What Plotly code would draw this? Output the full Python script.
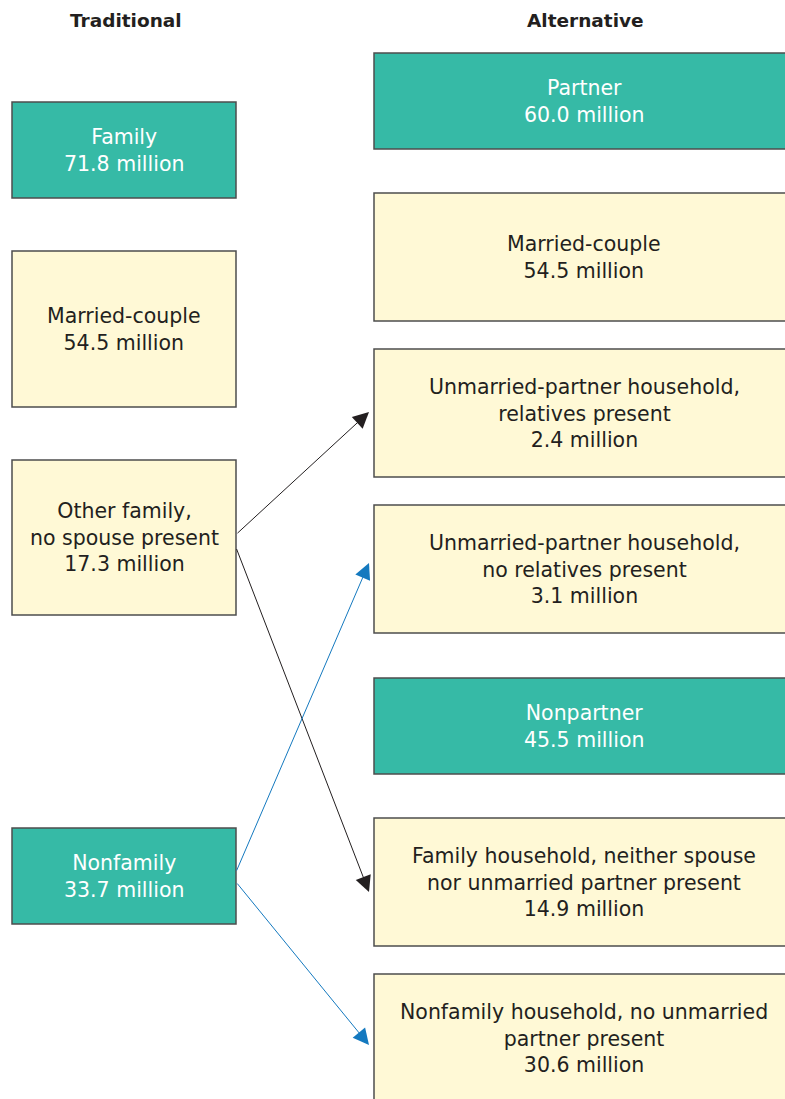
import plotly.graph_objects as go

# ── data ────────────────────────────────────────────────────────────
traditional_labels = ["Family", "Married-couple", "Other family,<br>no spouse present", "Nonfamily"]
traditional_values = [71.8, 54.5, 17.3, 33.7]
traditional_kind = ["total", "sub", "sub", "total"]

alternative_labels = [
    "Partner",
    "Married-couple",
    "Unmarried-partner household,<br>relatives present",
    "Unmarried-partner household,<br>no relatives present",
    "Nonpartner",
    "Family household, neither spouse<br>nor unmarried partner present",
    "Nonfamily household, no unmarried<br>partner present",
]
alternative_values = [60.0, 54.5, 2.4, 3.1, 45.5, 14.9, 30.6]
alternative_kind = ["total", "sub", "sub", "sub", "total", "sub", "sub"]

# flows: traditional index -> alternative index
flow_from = [2, 2, 3, 3]
flow_to = [2, 5, 3, 6]
flow_group = ["family", "family", "nonfamily", "nonfamily"]

# ── layout ──────────────────────────────────────────────────────────
W, H = 785, 1099
TEAL = "#36baa6"
CREAM = "#fff9d6"
EDGE = "#4d4d4d"
INK = "#231f20"
FLOW_COLORS = {"family": "#231f20", "nonfamily": "#1479bf"}
FONT = "DejaVu Sans, sans-serif"

left_x = (12, 236)
right_x = (374, 794)
left_top = [102, 251, 460, 828]
left_h = [96, 156, 155, 96]
right_top = [53, 193, 349, 505, 678, 818, 974]
right_h = [96, 128, 128, 128, 96, 128, 128]

# where arrows leave / reach boxes (offset from box centre, px)
tail_off = [-3, 10, -4, 6]
tip_off = [-1, 10, -6, 7]

fig = go.Figure()


def add_box(x0, x1, top, h, kind, label, value):
    fill = TEAL if kind == "total" else CREAM
    color = "white" if kind == "total" else INK
    fig.add_shape(type="rect", x0=x0, x1=x1, y0=top, y1=top + h,
                  xref="x", yref="y", fillcolor=fill,
                  line=dict(color=EDGE, width=1.5), layer="below")
    fig.add_annotation(x=(x0 + x1) / 2, y=top + h / 2, xref="x", yref="y",
                       text=f"{label}<br>{value:.1f} million", showarrow=False,
                       font=dict(family=FONT, size=20.5, color=color),
                       align="center", xanchor="center", yanchor="middle")


for lab, val, kind, top, h in zip(traditional_labels, traditional_values,
                                  traditional_kind, left_top, left_h):
    add_box(*left_x, top, h, kind, lab, val)

for lab, val, kind, top, h in zip(alternative_labels, alternative_values,
                                  alternative_kind, right_top, right_h):
    add_box(*right_x, top, h, kind, lab, val)

for f, t, g, so, eo in zip(flow_from, flow_to, flow_group, tail_off, tip_off):
    y_tail = left_top[f] + left_h[f] / 2 + so
    y_tip = right_top[t] + right_h[t] / 2 + eo
    fig.add_annotation(x=right_x[0] - 5, y=y_tip, ax=left_x[1], ay=y_tail,
                       xref="x", yref="y", axref="x", ayref="y",
                       showarrow=True, arrowhead=2, arrowsize=3.2,
                       arrowwidth=1.0, arrowcolor=FLOW_COLORS[g],
                       standoff=0, startstandoff=0, text="")

# column headers
for txt, xc in [("Traditional", sum(left_x) / 2 + 2), ("Alternative", 585)]:
    fig.add_annotation(x=xc, y=20, xref="x", yref="y", text=f"<b>{txt}</b>",
                       showarrow=False, font=dict(family=FONT, size=18.5, color=INK),
                       xanchor="center", yanchor="middle")

# axes in page pixels
fig.update_xaxes(range=[0, W], visible=False, fixedrange=True)
fig.update_yaxes(range=[H, 0], visible=False, fixedrange=True)
fig.update_layout(width=W, height=H, margin=dict(l=0, r=0, t=0, b=0),
                  plot_bgcolor="white", paper_bgcolor="white", showlegend=False)

# drop the default body margin so the figure fills the window exactly
fig.write_html(
    "out.html",
    config={"displayModeBar": False},
    post_script="document.body.style.margin='0';document.body.style.overflow='hidden';",
)
